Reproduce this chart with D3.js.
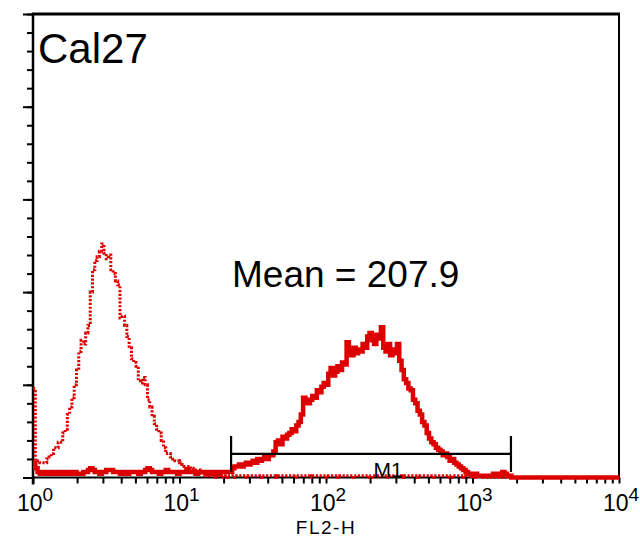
<!DOCTYPE html>
<html>
<head>
<meta charset="utf-8">
<script src="https://cdn.jsdelivr.net/npm/d3@7"></script>
<style>
  html, body { margin: 0; padding: 0; background: #fff; }
  svg { display: block; font-family: "Liberation Sans", Arial, sans-serif; }
</style>
</head>
<body>
<svg id="chart" width="640" height="541"></svg>
<script>
// ---------- DATA ----------
// 256 log channels spanning 10^0 .. 10^4 (channel i -> FL2-H = 10^(4*i/256))
const decadeTicks = [1, 10, 100, 1000, 10000];
const tickExponents = ["0", "1", "2", "3", "4"];
const xLabel = "FL2-H";
const sampleName = "Cal27";
const meanText = "Mean = 207.9";
const markerName = "M1";
const markerRange = [22.5, 1830];
const markerLevel = 12.7;

// isotype control (dotted)
const controlCounts = [
  48, 9, 9, 8, 8, 8, 10, 11, 13, 16, 16, 19, 19, 24, 26, 34, 38, 43, 50, 58,
  68, 74, 72, 78, 82, 100, 112, 117, 119, 122, 126, 121, 118, 120, 112, 110, 106, 104, 86, 87,
  82, 76, 70, 64, 62, 60, 52, 51, 54, 50, 42, 38, 33, 29, 26, 24, 20, 16, 13, 13,
  11, 10, 9, 9, 8, 7, 6, 5, 6, 5, 4, 3, 4, 2, 2, 1, 2, 1, 1, 0,
  1, 1, 0, 1, 0, 1, 1, 1, 0, 1, 1, 1, 1, 0, 1, 1, 1, 1, 1, 0,
  1, 1, 1, 1, 1, 1, 0, 1, 1, 1, 1, 1, 1, 1, 0, 1, 1, 1, 1, 1,
  1, 0, 1, 1, 1, 1, 1, 1, 0, 1, 1, 1, 1, 0, 1, 1, 1, 1, 1, 1,
  0, 1, 1, 1, 1, 1, 1, 0, 1, 1, 1, 1, 1, 1, 1, 0, 1, 1, 1, 1,
  1, 0, 1, 1, 1, 1, 1, 1, 0, 1, 1, 1, 1, 1, 0, 1, 1, 1, 1, 1,
  1, 1, 0, 1, 1, 1, 1, 1, 0, 1, 1, 1, 1, 0, 1, 1, 0, 0, 0, 0,
  0, 0, 0, 0, 0, 0, 0, 0, 0, 0, 0, 0, 0, 0, 0, 0, 0, 0, 0, 0,
  0, 0, 0, 0, 0, 0, 0, 0, 0, 0, 0, 0, 0, 0, 0, 0, 0, 0, 0, 0,
  0, 0, 0, 0, 0, 0, 0, 0, 0, 0, 0, 0, 0, 0, 0, 0
];

// stained sample (solid)
const sampleCounts = [
  8, 5, 3, 2, 2, 3, 2, 2, 3, 2, 2, 3, 2, 2, 3, 2, 2, 3, 3, 2,
  2, 2, 3, 3, 4, 5, 4, 3, 3, 2, 3, 3, 4, 4, 4, 3, 3, 3, 2, 3,
  3, 2, 3, 3, 3, 3, 2, 3, 3, 4, 5, 4, 3, 3, 3, 2, 3, 3, 4, 3,
  3, 3, 3, 2, 3, 3, 3, 4, 3, 3, 3, 2, 3, 3, 3, 3, 2, 2, 3, 3,
  2, 2, 3, 3, 3, 3, 3, 5, 6, 6, 7, 6, 7, 8, 7, 8, 9, 8, 10, 9,
  10, 11, 10, 12, 12, 14, 19, 20, 18, 22, 21, 23, 24, 26, 25, 28, 30, 34, 43, 41,
  40, 42, 44, 43, 47, 46, 49, 51, 50, 56, 59, 55, 57, 60, 58, 62, 61, 73, 68, 66,
  70, 67, 69, 68, 72, 70, 76, 78, 74, 72, 77, 75, 81, 70, 68, 72, 66, 69, 67, 72,
  63, 58, 53, 51, 48, 47, 42, 40, 36, 34, 30, 28, 24, 21, 19, 18, 16, 15, 14, 12,
  13, 11, 9, 10, 8, 7, 6, 5, 4, 3, 2, 2, 1, 2, 1, 1, 1, 1, 1, 1,
  1, 2, 2, 1, 2, 3, 2, 1, 1, 0, 0, 0, 0, 0, 0, 0, 0, 0, 0, 0,
  0, 0, 0, 0, 0, 0, 0, 0, 0, 0, 0, 0, 0, 0, 0, 0, 0, 0, 0, 0,
  0, 0, 0, 0, 0, 0, 0, 0, 0, 0, 0, 0, 0, 0, 0, 0
];

// ---------- LAYOUT ----------
const svg = d3.select("#chart");
const pL = 33, pR = 619, pT = 14, pB = 477.5;
const red = "#dd0000";

const x = d3.scaleLog().domain([1, 10000]).range([pL, pR]);
const y = d3.scaleLinear().domain([0, 250]).range([pB, pT]);
const nCh = controlCounts.length;
const chToVal = i => Math.pow(10, 4 * i / nCh);

// ---------- AXES ----------
const yMinor = d3.axisLeft(y).tickValues(d3.range(0, 251, 10)).tickSize(6).tickFormat("");
const yMajor = d3.axisLeft(y).tickValues(d3.range(0, 251, 50)).tickSize(10).tickFormat("");
[yMinor, yMajor].forEach(ax => {
  const g = svg.append("g").attr("transform", `translate(${pL},0)`).call(ax);
  g.select(".domain").remove();
  g.selectAll(".tick line").attr("stroke", "#000").attr("stroke-width", 2);
});

const xTickVals = [];
decadeTicks.slice(0, 4).forEach(d => { for (let k = 1; k <= 9; k++) xTickVals.push(d * k); });
xTickVals.push(10000);
const xAx = d3.axisBottom(x).tickValues(xTickVals).tickSize(6).tickFormat("");
const gx = svg.append("g").attr("transform", `translate(0,${pB})`).call(xAx);
gx.select(".domain").remove();
gx.selectAll(".tick line").attr("stroke", "#000").attr("stroke-width", 2);

// frame
svg.append("line").attr("x1", pL).attr("x2", pR).attr("y1", pB).attr("y2", pB)
  .attr("stroke", "#000").attr("stroke-width", 2);
svg.append("line").attr("x1", pL).attr("x2", pL).attr("y1", pT - 1).attr("y2", pB + 7)
  .attr("stroke", "#000").attr("stroke-width", 2.5);
svg.append("line").attr("x1", pL - 1).attr("x2", pR + 1).attr("y1", pT).attr("y2", pT)
  .attr("stroke", "#000").attr("stroke-width", 3);
svg.append("line").attr("x1", pR).attr("x2", pR).attr("y1", pT).attr("y2", pB)
  .attr("stroke", "#000").attr("stroke-width", 2);

// tick labels 10^k
const lbl = svg.append("g");
decadeTicks.forEach((d, i) => {
  const t = lbl.append("text")
    .attr("x", x(d) + 2).attr("y", 511)
    .attr("text-anchor", "middle")
    .attr("font-size", 23).attr("fill", "#000");
  t.append("tspan").text("10");
  t.append("tspan").attr("dy", -10).attr("font-size", 19).text(tickExponents[i]);
});
svg.append("text").attr("x", x(100)).attr("y", 534).attr("text-anchor", "middle")
  .attr("font-size", 19).attr("letter-spacing", 1.5).text(xLabel);

// ---------- CURVES ----------
const line = d3.line()
  .x((d, i) => x(chToVal(i)))
  .y(d => y(d))
  .curve(d3.curveStepAfter);

svg.append("clipPath").attr("id", "plotclip")
  .append("rect").attr("x", pL).attr("y", pT).attr("width", pR - pL).attr("height", pB - pT + 3);

svg.append("path").datum(controlCounts.concat([controlCounts[nCh - 1]]))
  .attr("d", line).attr("fill", "none")
  .attr("stroke", red).attr("stroke-width", 3).attr("stroke-dasharray", "2.2 1.6")
  .attr("clip-path", "url(#plotclip)");

svg.append("path").datum(sampleCounts.concat([sampleCounts[nCh - 1]]))
  .attr("d", line).attr("fill", "none")
  .attr("stroke", red).attr("stroke-width", 4.5).attr("stroke-linejoin", "miter")
  .attr("clip-path", "url(#plotclip)");

// ---------- MARKER ----------
const mx1 = x(markerRange[0]), mx2 = x(markerRange[1]), my = y(markerLevel);
const mk = svg.append("g").attr("stroke", "#000").attr("stroke-width", 2.2);
mk.append("line").attr("x1", mx1).attr("x2", mx2).attr("y1", my).attr("y2", my);
mk.append("line").attr("x1", mx1).attr("x2", mx1).attr("y1", my - 18).attr("y2", my + 18);
mk.append("line").attr("x1", mx2).attr("x2", mx2).attr("y1", my - 18).attr("y2", my + 18);
svg.append("text").attr("x", (mx1 + mx2) / 2 + 17).attr("y", 476.5)
  .attr("text-anchor", "middle").attr("font-size", 21).text(markerName);

// ---------- ANNOTATIONS ----------
svg.append("text").attr("x", 38).attr("y", 63).attr("font-size", 42).text(sampleName);
svg.append("text").attr("x", 232).attr("y", 287).attr("font-size", 37).text(meanText);
</script>
</body>
</html>
